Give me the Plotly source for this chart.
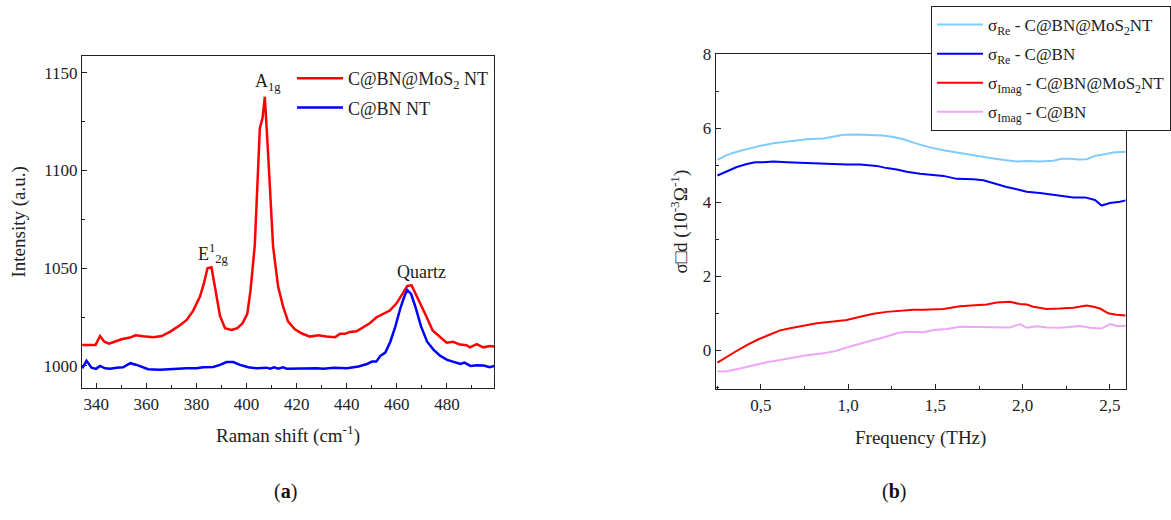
import plotly.graph_objects as go

# ---------------- Panel (a): Raman spectra ----------------
raman_x_mos2 = [334.4, 339.7, 341.5, 343.2, 345.1, 347.5, 350.1, 353.4, 355.7, 358.8, 362.8, 366.1,
                369.4, 373.4, 376.1, 378.7, 381.4, 383.0, 384.4, 386.0, 387.8, 389.4, 391.4, 394.0,
                396.3, 398.4, 400.3, 401.6, 403.3, 405.3, 406.4, 407.3, 408.6, 410.6, 412.6, 414.6,
                416.6, 419.3, 421.9, 425.3, 428.6, 431.9, 435.3, 437.3, 439.3, 441.3, 443.9, 446.6,
                449.2, 451.9, 454.6, 457.2, 459.9, 462.6, 464.2, 465.9, 468.5, 471.2, 474.3, 477.2,
                479.9, 482.5, 485.2, 487.8, 489.2, 491.9, 494.5, 497.2, 498.9]
raman_y_mos2 = [1010.7, 1010.7, 1015.3, 1012.4, 1011.4, 1012.4, 1013.6, 1014.5, 1015.7, 1015.2, 1014.7, 1015.3,
                1017.4, 1020.8, 1023.5, 1028.3, 1035.5, 1042.3, 1050.0, 1050.5, 1037.2, 1025.6, 1019.3, 1018.4,
                1019.3, 1021.8, 1026.6, 1038.9, 1061.9, 1121.5, 1127.0, 1137.7, 1108.7, 1061.0, 1040.6, 1030.3,
                1022.7, 1018.7, 1016.7, 1015.0, 1015.7, 1015.0, 1014.7, 1016.4, 1016.4, 1017.4, 1017.7, 1019.8,
                1021.8, 1024.9, 1026.6, 1028.3, 1032.0, 1037.2, 1040.9, 1041.2, 1034.6, 1026.9, 1018.1, 1015.0,
                1011.9, 1012.3, 1010.9, 1010.6, 1009.5, 1011.1, 1009.5, 1010.2, 1009.9]

raman_x_cbn = [334.4, 336.1, 338.1, 339.9, 341.5, 343.5, 345.5, 348.1, 350.7, 353.6, 356.1, 358.7,
               360.7, 365.4, 370.7, 376.1, 380.0, 382.7, 386.7, 389.4, 392.0, 394.7, 397.4, 400.7,
               404.0, 408.0, 409.4, 411.0, 412.7, 414.5, 416.1, 421.4, 428.1, 430.7, 434.7, 440.1,
               444.7, 448.1, 450.1, 451.8, 453.4, 455.4, 457.4, 459.4, 461.4, 463.0, 464.1, 465.7,
               467.4, 469.7, 472.1, 474.7, 477.4, 480.1, 482.7, 485.4, 487.0, 489.4, 492.0, 494.7,
               497.1, 499.0]
raman_y_cbn = [998.8, 1002.6, 999.1, 998.5, 1000.0, 998.8, 998.5, 999.1, 999.3, 1001.4, 1000.5, 999.3,
               998.3, 998.1, 998.5, 998.8, 998.8, 999.3, 999.5, 1000.5, 1002.0, 1002.0, 1000.5, 999.3,
               998.8, 999.1, 998.6, 999.3, 998.6, 999.3, 998.6, 998.8, 998.8, 998.5, 999.0, 998.8,
               999.7, 1001.0, 1002.2, 1002.2, 1005.1, 1006.8, 1012.4, 1020.1, 1029.5, 1035.5, 1038.9, 1036.8,
               1030.3, 1020.1, 1012.4, 1008.2, 1005.1, 1003.1, 1002.0, 1001.0, 1001.7, 1000.0, 1000.3, 1000.2,
               999.3, 1000.0]

# ---------------- Panel (b): THz conductivity ----------------
f_re_mos2 = [0.252, 0.305, 0.363, 0.439, 0.496, 0.573, 0.649, 0.763, 0.859, 0.916, 0.973, 1.05,
             1.145, 1.202, 1.26, 1.317, 1.393, 1.469, 1.546, 1.641, 1.737, 1.832, 1.908, 1.966,
             2.023, 2.099, 2.176, 2.223, 2.271, 2.319, 2.366, 2.414, 2.462, 2.519, 2.59]
s_re_mos2 = [5.14, 5.27, 5.36, 5.45, 5.52, 5.59, 5.64, 5.70, 5.72, 5.77, 5.82, 5.83,
             5.80, 5.80, 5.76, 5.70, 5.58, 5.48, 5.40, 5.32, 5.26, 5.18, 5.13, 5.10,
             5.11, 5.10, 5.12, 5.17, 5.17, 5.15, 5.16, 5.25, 5.29, 5.34, 5.36]

f_re_cbn = [0.252, 0.305, 0.363, 0.42, 0.468, 0.515, 0.573, 0.649, 0.725, 0.802, 0.916, 0.992,
            1.069, 1.164, 1.221, 1.279, 1.336, 1.412, 1.489, 1.546, 1.622, 1.718, 1.775, 1.832,
            1.908, 1.966, 2.023, 2.099, 2.156, 2.214, 2.290, 2.357, 2.414, 2.452, 2.50, 2.557, 2.59]
s_re_cbn = [4.72, 4.84, 4.95, 5.03, 5.08, 5.08, 5.10, 5.08, 5.06, 5.04, 5.03, 5.02,
            5.02, 4.98, 4.92, 4.88, 4.82, 4.77, 4.74, 4.71, 4.63, 4.62, 4.59, 4.51,
            4.41, 4.35, 4.28, 4.25, 4.21, 4.17, 4.13, 4.13, 4.06, 3.91, 3.98, 4.01, 4.05]

f_im_mos2 = [0.252, 0.305, 0.363, 0.42, 0.487, 0.553, 0.611, 0.668, 0.744, 0.821, 0.916, 0.992,
             1.069, 1.145, 1.221, 1.298, 1.374, 1.431, 1.489, 1.546, 1.641, 1.737, 1.794, 1.851,
             1.927, 1.985, 2.023, 2.061, 2.137, 2.214, 2.290, 2.366, 2.405, 2.443, 2.49, 2.538, 2.59]
s_im_mos2 = [-0.33, -0.17, -0.01, 0.14, 0.30, 0.43, 0.54, 0.60, 0.67, 0.73, 0.78, 0.82,
             0.91, 0.99, 1.04, 1.08, 1.10, 1.10, 1.10, 1.12, 1.19, 1.21, 1.24, 1.29,
             1.31, 1.25, 1.24, 1.18, 1.12, 1.13, 1.15, 1.21, 1.18, 1.13, 1.00, 0.96, 0.94]

f_im_cbn = [0.252, 0.305, 0.382, 0.458, 0.534, 0.611, 0.687, 0.763, 0.859, 0.935, 0.992, 1.069,
            1.145, 1.202, 1.279, 1.336, 1.393, 1.431, 1.489, 1.565, 1.641, 1.718, 1.813, 1.927,
            1.985, 2.023, 2.080, 2.137, 2.214, 2.28, 2.328, 2.385, 2.452, 2.50, 2.538, 2.59]
s_im_cbn = [-0.57, -0.56, -0.49, -0.40, -0.32, -0.26, -0.20, -0.13, -0.08, -0.01, 0.08, 0.19,
            0.28, 0.35, 0.46, 0.50, 0.50, 0.49, 0.55, 0.58, 0.64, 0.64, 0.64, 0.62,
            0.71, 0.61, 0.65, 0.62, 0.61, 0.65, 0.66, 0.61, 0.59, 0.71, 0.66, 0.66]

freq_tickvals = [0.5, 1.0, 1.5, 2.0, 2.5]
freq_ticktext = ["0,5", "1,0", "1,5", "2,0", "2,5"]

FONT = "Liberation Serif"
W, H = 1171, 520

fig = go.Figure()

# Panel (a)
fig.add_trace(go.Scatter(x=raman_x_mos2, y=raman_y_mos2, mode="lines",
                         line=dict(color="#ff0000", width=2.5),
                         name="C@BN@MoS<sub>2</sub> NT", xaxis="x", yaxis="y",
                         legend="legend", legendgroup="a1"))
fig.add_trace(go.Scatter(x=raman_x_cbn, y=raman_y_cbn, mode="lines",
                         line=dict(color="#0000ff", width=2.5),
                         name="C@BN NT", xaxis="x", yaxis="y",
                         legend="legend", legendgroup="a2"))

# Panel (b)
fig.add_trace(go.Scatter(x=f_re_mos2, y=s_re_mos2, mode="lines",
                         line=dict(color="#7fcbff", width=2),
                         name="σ<sub>Re</sub> - C@BN@MoS<sub>2</sub>NT", xaxis="x2", yaxis="y2",
                         legend="legend2", legendgroup="b1"))
fig.add_trace(go.Scatter(x=f_re_cbn, y=s_re_cbn, mode="lines",
                         line=dict(color="#0000ff", width=2),
                         name="σ<sub>Re</sub> - C@BN", xaxis="x2", yaxis="y2",
                         legend="legend2", legendgroup="b2"))
fig.add_trace(go.Scatter(x=f_im_mos2, y=s_im_mos2, mode="lines",
                         line=dict(color="#ff0000", width=2),
                         name="σ<sub>Imag</sub> - C@BN@MoS<sub>2</sub>NT", xaxis="x2", yaxis="y2",
                         legend="legend2", legendgroup="b3"))
fig.add_trace(go.Scatter(x=f_im_cbn, y=s_im_cbn, mode="lines",
                         line=dict(color="#eea6f6", width=2),
                         name="σ<sub>Imag</sub> - C@BN", xaxis="x2", yaxis="y2",
                         legend="legend2", legendgroup="b4"))

axis_common = dict(showline=True, linecolor="#222", linewidth=1.2, mirror=True,
                   ticks="inside", ticklen=5, tickcolor="#222", showgrid=False, zeroline=False,
                   tickfont=dict(family=FONT, size=17, color="#222"))

fig.update_layout(
    width=W, height=H,
    margin=dict(l=0, r=0, t=0, b=0, autoexpand=False),
    paper_bgcolor="white", plot_bgcolor="white",
    font=dict(family=FONT, size=17, color="#222"),
    xaxis=dict(domain=[82 / W, 494 / W], anchor="y", range=[334.3, 498.8],
               tick0=340, dtick=20,
               minor=dict(ticks="inside", dtick=10, ticklen=3, tickcolor="#222"),
               title=dict(text="Raman shift (cm<sup>-1</sup>)", font=dict(size=19), standoff=16),
               **axis_common),
    yaxis=dict(domain=[1 - 388 / H, 1 - 55.7 / H], anchor="x", range=[988.7, 1158.7],
               tick0=1000, dtick=50,
               minor=dict(ticks="inside", dtick=25, ticklen=3, tickcolor="#222"),
               title=dict(text="Intensity (a.u.)", font=dict(size=19), standoff=12),
               **axis_common),
    xaxis2=dict(domain=[715.7 / W, 1125.7 / W], anchor="y2", range=[0.242, 2.59],
                tickvals=freq_tickvals, ticktext=freq_ticktext,
                minor=dict(ticks="inside", tickvals=[0.25, 0.75, 1.25, 1.75, 2.25], ticklen=3, tickcolor="#222"),
                title=dict(text="Frequency (THz)", font=dict(size=19), standoff=16),
                **axis_common),
    yaxis2=dict(domain=[1 - 389.3 / H, 1 - 54 / H], anchor="x2", range=[-1.05, 8],
                tickvals=[0, 2, 4, 6, 8],
                minor=dict(ticks="inside", tickvals=[-1, 1, 3, 5, 7], ticklen=3, tickcolor="#222"),
                title=dict(text="σ□d (10<sup>-3</sup>Ω<sup>-1</sup>)", font=dict(size=19), standoff=10),
                **axis_common),
    legend=dict(x=292 / W, y=1 - 60 / H, xanchor="left", yanchor="top",
                bgcolor="rgba(0,0,0,0)", borderwidth=0,
                font=dict(family=FONT, size=18, color="#222"),
                itemwidth=46, tracegroupgap=3, traceorder="grouped"),
    legend2=dict(x=931 / W, y=1 - 6 / H, xanchor="left", yanchor="top",
                 bgcolor="white", bordercolor="#222", borderwidth=1,
                 font=dict(family=FONT, size=17, color="#222"),
                 itemwidth=46, tracegroupgap=4, traceorder="grouped"),
    showlegend=True,
)

annotations = [
    dict(x=408.5, y=1145, xref="x", yref="y", text="A<sub>1g</sub>", showarrow=False,
         font=dict(family=FONT, size=18, color="#222")),
    dict(x=387.0, y=1057.5, xref="x", yref="y", text="E<sup>1</sup><sub>2g</sub>", showarrow=False,
         font=dict(family=FONT, size=18, color="#222")),
    dict(x=470.0, y=1048, xref="x", yref="y", text="Quartz", showarrow=False,
         font=dict(family=FONT, size=18, color="#222")),
    dict(x=272 / W, y=1 - 505 / H, xref="paper", yref="paper", text="(<b>a</b>)", showarrow=False,
         font=dict(family=FONT, size=20, color="#111")),
    dict(x=908 / W, y=1 - 505 / H, xref="paper", yref="paper", text="(<b>b</b>)", showarrow=False,
         font=dict(family=FONT, size=20, color="#111")),
]
fig.update_layout(annotations=annotations)

fig.write_html("out.html", config={"displayModeBar": False},
               post_script="document.body.style.margin='0';document.body.style.overflow='hidden';")
